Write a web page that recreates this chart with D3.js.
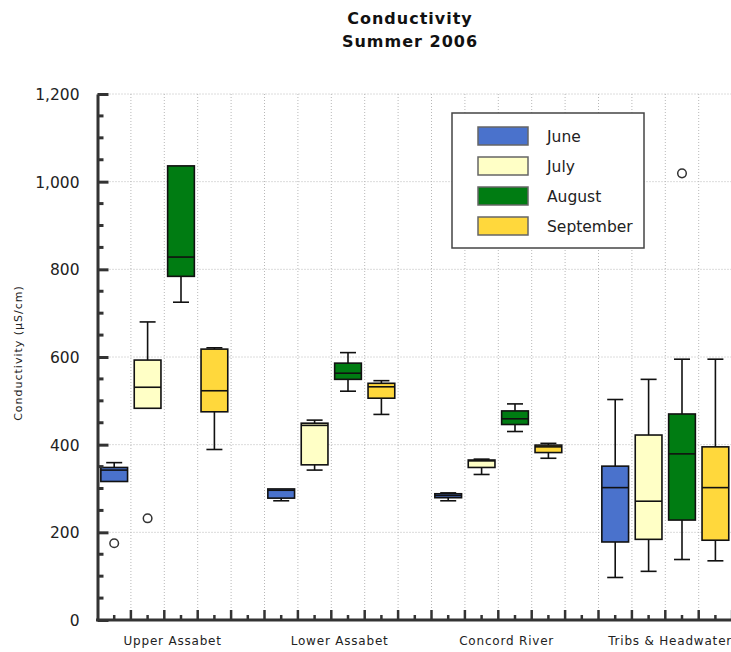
<!DOCTYPE html>
<html lang="en">
<head>
    <meta charset="UTF-8">
    <title>Conductivity Summer 2006</title>
    <script src="https://d3js.org/d3.v7.min.js"></script>
    <style>
        body { margin: 0; background: #fff; }
        .title { font: bold 16px "DejaVu Sans", sans-serif; letter-spacing: 1px; text-anchor: middle; fill: #111; }
        .tick text { font: 15.5px "DejaVu Sans", sans-serif; fill: #222; }
        .site-label { font: 12px "DejaVu Sans", sans-serif; letter-spacing: 0.8px; text-anchor: middle; fill: #222; }
        .y-label { font: 11px "DejaVu Sans", sans-serif; letter-spacing: 1px; text-anchor: middle; fill: #222; }
        .legend-label { font: 15.5px "DejaVu Sans", sans-serif; fill: #222; }
        .grid { stroke: #b8b8b8; stroke-width: 1; stroke-dasharray: 1,2; }
    </style>
</head>
<body>
<script>
    // values: [low whisker, q1, median, q3, high whisker]
    let sites = ["Upper Assabet", "Lower Assabet", "Concord River", "Tribs & Headwaters"];
    let months = ["June", "July", "August", "September"];
    let colors = ["#4a72cc", "#ffffc6", "#007c12", "#ffd83c"];

    let june = [[316, 316, 342, 348, 359], [272, 278, 296, 299, 299], [272, 279, 284, 288, 290], [97, 178, 302, 351, 503]];
    let july = [[483, 483, 531, 593, 680], [342, 354, 444, 449, 456], [332, 348, 363, 365, 367], [111, 184, 271, 422, 549]];
    let august = [[725, 784, 828, 1036, 1036], [522, 549, 563, 586, 610], [430, 446, 459, 477, 493], [138, 228, 379, 470, 595]];
    let september = [[389, 475, 523, 618, 621], [469, 506, 532, 540, 546], [369, 382, 395, 399, 403], [135, 182, 302, 395, 595]];

    // outliers: [site, month, value]
    let outliers = [["Upper Assabet", "June", 175], ["Upper Assabet", "July", 232], ["Tribs & Headwaters", "August", 1019]];

    let yTicks = [0, 200, 400, 600, 800, 1000, 1200];

    let width = 731;
    let height = 652;
    let plotLeft = 97.5;
    let plotTop = 94;
    let plotBottom = 620;
    let slot = 33.4;
    let slotsPerSite = 5;
    let plotRight = plotLeft + slot * slotsPerSite * sites.length;

    let svg = d3.select("body").append("svg")
        .attr("width", width)
        .attr("height", height);

    let y = d3.scaleLinear().domain([0, 1200]).range([plotBottom, plotTop]);

    let x0 = d3.scaleBand().domain(sites).range([plotLeft, plotRight]);
    let x1 = d3.scaleBand().domain(months)
        .range([0, x0.bandwidth() * (months.length / slotsPerSite)]);
    let slotScale = d3.scaleLinear().domain([0, slotsPerSite * sites.length]).range([plotLeft, plotRight]);
    let color = d3.scaleOrdinal().domain(months).range(colors);

    let boxWidth = x1.bandwidth() * 0.8;
    let capWidth = 16;

    // gridlines
    svg.append("g").selectAll("line")
        .data(yTicks.slice(1))
        .join("line")
        .attr("class", "grid")
        .attr("x1", plotLeft).attr("x2", width)
        .attr("y1", d => y(d)).attr("y2", d => y(d));

    svg.append("g").selectAll("line")
        .data(d3.range(1, slotsPerSite * sites.length + 1))
        .join("line")
        .attr("class", "grid")
        .attr("x1", d => slotScale(d)).attr("x2", d => slotScale(d))
        .attr("y1", plotTop).attr("y2", plotBottom);

    // title
    svg.append("text").attr("class", "title").attr("x", 410).attr("y", 24).text("Conductivity");
    svg.append("text").attr("class", "title").attr("x", 410).attr("y", 47).text("Summer 2006");

    // boxes
    let series = [june, july, august, september];
    let boxes = [];
    months.forEach((m, i) => {
        sites.forEach((s, j) => {
            let v = series[i][j];
            boxes.push({site: s, month: m, lo: v[0], q1: v[1], med: v[2], q3: v[3], hi: v[4]});
        });
    });

    let cx = d => x0(d.site) + x1(d.month) + x1.bandwidth() / 2;

    let g = svg.append("g").selectAll("g")
        .data(boxes)
        .join("g");

    // whiskers
    g.append("line")
        .attr("x1", cx).attr("x2", cx)
        .attr("y1", d => y(d.hi)).attr("y2", d => y(d.lo))
        .attr("stroke", "#111").attr("stroke-width", 1.6);

    g.filter(d => d.hi > d.q3).append("line")
        .attr("x1", d => cx(d) - capWidth / 2).attr("x2", d => cx(d) + capWidth / 2)
        .attr("y1", d => y(d.hi)).attr("y2", d => y(d.hi))
        .attr("stroke", "#111").attr("stroke-width", 1.6);

    g.filter(d => d.lo < d.q1).append("line")
        .attr("x1", d => cx(d) - capWidth / 2).attr("x2", d => cx(d) + capWidth / 2)
        .attr("y1", d => y(d.lo)).attr("y2", d => y(d.lo))
        .attr("stroke", "#111").attr("stroke-width", 1.6);

    g.append("rect")
        .attr("x", d => cx(d) - boxWidth / 2)
        .attr("width", boxWidth)
        .attr("y", d => y(d.q3))
        .attr("height", d => y(d.q1) - y(d.q3))
        .attr("fill", d => color(d.month))
        .attr("stroke", "#111").attr("stroke-width", 1.6);

    g.append("line")
        .attr("x1", d => cx(d) - boxWidth / 2).attr("x2", d => cx(d) + boxWidth / 2)
        .attr("y1", d => y(d.med)).attr("y2", d => y(d.med))
        .attr("stroke", "#111").attr("stroke-width", 1.6);

    // outliers
    svg.append("g").selectAll("circle")
        .data(outliers)
        .join("circle")
        .attr("cx", d => x0(d[0]) + x1(d[1]) + x1.bandwidth() / 2)
        .attr("cy", d => y(d[2]))
        .attr("r", 4.3)
        .attr("fill", "#fff")
        .attr("stroke", "#333")
        .attr("stroke-width", 1.5);

    // y axis, ticks inside the plot
    let yAxis = svg.append("g")
        .attr("transform", "translate(" + plotLeft + ",0)")
        .call(d3.axisLeft(y)
            .tickValues(yTicks)
            .tickFormat(d3.format(","))
            .tickSizeInner(-11)
            .tickSizeOuter(0)
            .tickPadding(18));
    yAxis.select(".domain").attr("stroke", "#333").attr("stroke-width", 3);
    yAxis.selectAll(".tick line").attr("stroke", "#333").attr("stroke-width", 3);
    yAxis.selectAll(".tick text").attr("dy", "0.36em");

    svg.append("g").selectAll("line")
        .data(d3.range(50, 1200, 50).filter(d => d % 200 !== 0))
        .join("line")
        .attr("x1", plotLeft).attr("x2", plotLeft + 6)
        .attr("y1", d => y(d)).attr("y2", d => y(d))
        .attr("stroke", "#333").attr("stroke-width", 3);

    // x axis
    svg.append("line")
        .attr("x1", plotLeft - 1.5).attr("x2", width)
        .attr("y1", plotBottom).attr("y2", plotBottom)
        .attr("stroke", "#333").attr("stroke-width", 3);

    svg.append("g").selectAll("line")
        .data(d3.range(0.5, slotsPerSite * sites.length + 1, 0.5))
        .join("line")
        .attr("x1", d => slotScale(d)).attr("x2", d => slotScale(d))
        .attr("y1", plotBottom).attr("y2", d => plotBottom - (d % 1 === 0 ? 10 : 5))
        .attr("stroke", "#333").attr("stroke-width", 2.5);

    svg.append("g").selectAll("text")
        .data(sites)
        .join("text")
        .attr("class", "site-label")
        .attr("x", d => x0(d) + x1.bandwidth() * 1.75 + x1.bandwidth() / 2)
        .attr("y", 645)
        .text(d => d);

    svg.append("text")
        .attr("class", "y-label")
        .attr("transform", "translate(22,353) rotate(-90)")
        .text("Conductivity (µS/cm)");

    // legend
    let legend = svg.append("g").attr("transform", "translate(452,113)");
    legend.append("rect")
        .attr("width", 192).attr("height", 135)
        .attr("fill", "#fff").attr("stroke", "#444").attr("stroke-width", 1.5);

    let item = legend.selectAll("g.item")
        .data(months)
        .join("g")
        .attr("class", "item")
        .attr("transform", (d, i) => "translate(26," + (14 + i * 30) + ")");
    item.append("rect")
        .attr("width", 50).attr("height", 18)
        .attr("fill", d => color(d))
        .attr("stroke", "#666").attr("stroke-width", 1.5);
    item.append("text")
        .attr("class", "legend-label")
        .attr("x", 69).attr("y", 9)
        .attr("dy", "0.36em")
        .text(d => d);
</script>
</body>
</html>
